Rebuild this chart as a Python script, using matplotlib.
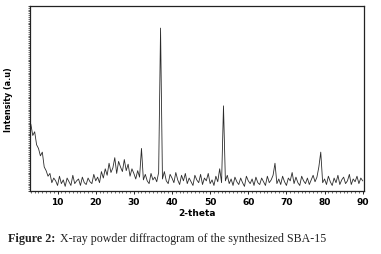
import matplotlib
matplotlib.use("Agg")
import matplotlib.pyplot as plt
import numpy as np
from matplotlib.ticker import MultipleLocator

# 2-theta sampled every 0.5 degree, 3 -> 90
two_theta = np.arange(3.0, 90.01, 0.5)

# intensity (arbitrary units, 0 = bottom axis, 1000 = top)
intensity = [
    360, 300, 320, 250, 230, 190, 210, 130, 110, 80,         # 3.0 - 7.5
    95, 45, 70, 55, 30, 80, 40, 60, 25, 70,                  # 8.0 - 12.5
    50, 30, 85, 40, 55, 65, 30, 75, 45, 35,                  # 13.0 - 17.5
    70, 50, 40, 90, 55, 75, 45, 105, 70, 120,                # 18.0 - 22.5
    85, 150, 100, 125, 180, 95, 160, 130, 105, 170,          # 23.0 - 27.5
    110, 145, 80, 120, 95, 65, 110, 75, 230, 60,             # 28.0 - 32.5
    90, 55, 40, 95, 60, 75, 50, 100, 880, 65,                # 33.0 - 37.5
    105, 55, 40, 90, 70, 45, 100, 60, 35, 85,                # 38.0 - 42.5
    55, 95, 40, 70, 50, 30, 85, 60, 45, 90,                  # 43.0 - 47.5
    35, 70, 55, 95, 40, 60, 30, 80, 50, 120,                 # 48.0 - 52.5
    45, 460, 55, 85, 40, 65, 30, 75, 50, 35,                 # 53.0 - 57.5
    70, 45, 25, 80, 55, 40, 65, 30, 75, 45,                  # 58.0 - 62.5
    35, 70, 50, 30, 80, 45, 60, 85, 150, 40,                 # 63.0 - 67.5
    65, 35, 80, 50, 30, 70, 55, 100, 40, 75,                 # 68.0 - 72.5
    45, 30, 80, 55, 40, 70, 35, 60, 85, 50,                  # 73.0 - 77.5
    75, 130, 210, 45, 65, 35, 80, 50, 30, 70,                # 78.0 - 82.5
    45, 85, 35, 60, 75, 40, 55, 90, 35, 65,                  # 83.0 - 87.5
    50, 80, 40, 70, 55,                                      # 88.0 - 90.0
]

x_ticks = [10, 20, 30, 40, 50, 60, 70, 80, 90]

fig = plt.figure(figsize=(3.81, 2.55), dpi=100)
ax = fig.add_axes([0.079, 0.247, 0.876, 0.726])

ax.plot(two_theta, intensity, color="#2b2b2b", linewidth=0.6)

ax.set_xlim(2.8, 90.3)
ax.set_ylim(0, 1000)
ax.set_xticks(x_ticks)
ax.xaxis.set_minor_locator(MultipleLocator(1))
ax.yaxis.set_major_locator(MultipleLocator(100))
ax.yaxis.set_minor_locator(MultipleLocator(10))
ax.set_yticklabels([])
ax.tick_params(axis="x", which="major", direction="out", length=2.5, width=0.6,
               pad=2, labelsize=6.5)
ax.tick_params(axis="both", which="minor", direction="out", length=1.2, width=0.4)
ax.tick_params(axis="y", which="major", direction="out", length=1.5, width=0.5)
for lbl in ax.get_xticklabels():
    lbl.set_fontweight("bold")

for s in ax.spines.values():
    s.set_linewidth(0.9)
    s.set_color("#222222")

ax.set_xlabel("2-theta", fontsize=6.5, fontweight="bold", labelpad=1)
ax.set_ylabel("Intensity (a.u)", fontsize=5.8, fontweight="bold", labelpad=7)

fig.text(0.021, 0.051, "Figure 2:", fontsize=8.7, fontweight="bold",
         family="Liberation Serif", color="#222222", va="baseline")
fig.text(0.157, 0.051, "X-ray powder diffractogram of the synthesized SBA-15",
         fontsize=8.6, family="Liberation Serif", color="#222222", va="baseline")

fig.savefig("out.png", dpi=100)
